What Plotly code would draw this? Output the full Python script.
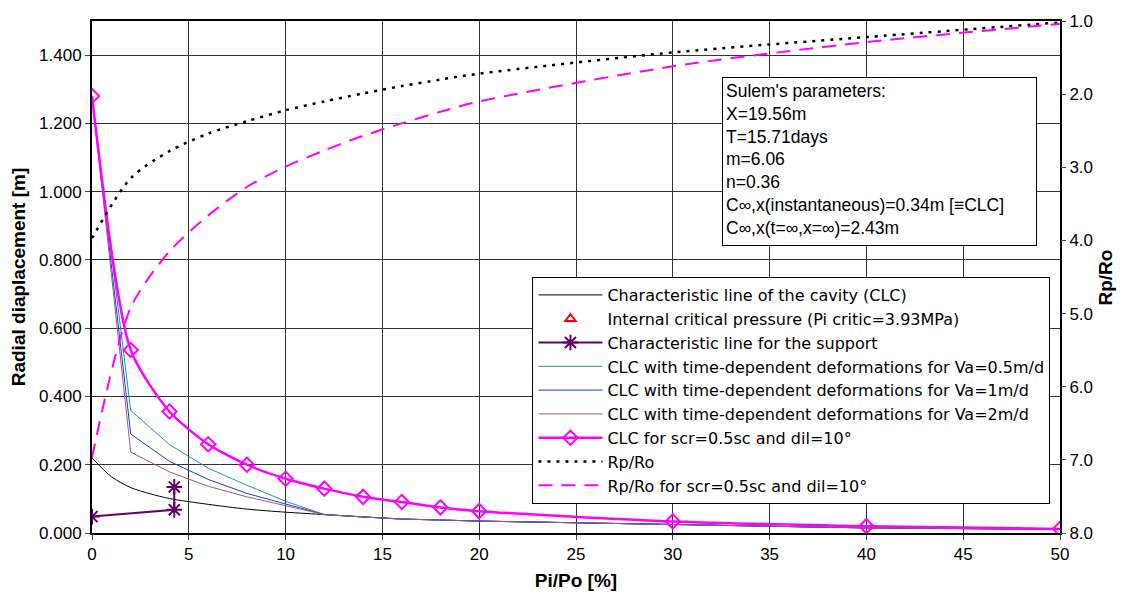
import plotly.graph_objects as go

# ---------------- data ----------------
x_pts = [0, 2, 4, 6, 8, 10, 12, 14, 16, 18, 20, 30, 40, 50]

clc_x = [0, 1, 2, 3, 4, 6, 8, 10, 12, 14, 16, 18, 20, 30, 40, 50]
clc_y = [0.220, 0.165, 0.133, 0.115, 0.101, 0.084, 0.070, 0.061, 0.054,
         0.047, 0.041, 0.038, 0.035, 0.025, 0.015, 0.011]

support_x = [0, 4.25, 4.25]
support_y = [0.048, 0.068, 0.135]

va05_y = [1.28, 0.359, 0.259, 0.190, 0.140, 0.093, 0.054, 0.047, 0.041, 0.038, 0.035, 0.025, 0.015, 0.011]
va1_y = [1.28, 0.290, 0.210, 0.157, 0.116, 0.085, 0.054, 0.047, 0.041, 0.038, 0.035, 0.025, 0.015, 0.011]
va2_y = [1.28, 0.237, 0.179, 0.137, 0.106, 0.081, 0.054, 0.047, 0.041, 0.038, 0.035, 0.025, 0.015, 0.011]

scr_y = [1.28, 0.536, 0.356, 0.260, 0.200, 0.159, 0.130, 0.106, 0.091, 0.075, 0.064, 0.034, 0.020, 0.012]

rp_ro = [3.97, 3.15, 2.78, 2.54, 2.37, 2.22, 2.10, 1.99, 1.89, 1.80, 1.72, 1.43, 1.22, 1.02]
rp_ro_scr = [6.97, 4.92, 4.15, 3.66, 3.27, 2.99, 2.77, 2.57, 2.40, 2.24, 2.10, 1.62, 1.29, 1.04]

x_ticks = [0, 5, 10, 15, 20, 25, 30, 35, 40, 45, 50]

names = [
    "Characteristic line of the cavity (CLC)",
    "Internal critical pressure (Pi critic=3.93MPa)",
    "Characteristic line for the support",
    "CLC with time-dependent deformations for Va=0.5m/d",
    "CLC with time-dependent deformations for Va=1m/d",
    "CLC with time-dependent deformations for Va=2m/d",
    "CLC for scr=0.5sc and dil=10°",
    "Rp/Ro",
    "Rp/Ro for scr=0.5sc and dil=10°",
]

params_text = ("Sulem's parameters:<br>X=19.56m<br>T=15.71days<br>m=6.06<br>n=0.36<br>"
               "C∞,x(instantaneous)=0.34m [≡CLC]<br>C∞,x(t=∞,x=∞)=2.43m")

FONT = "Liberation Sans, Arial, sans-serif"
LEG_FONT = "DejaVu Sans, Liberation Sans, sans-serif"

fig = go.Figure()

fig.add_trace(go.Scatter(x=clc_x, y=clc_y, mode="lines", name=names[0],
                         line=dict(color="black", width=1, shape="spline", smoothing=0.8)))
fig.add_trace(go.Scatter(x=[None], y=[None], mode="markers", name=names[1],
                         marker=dict(symbol="triangle-up-open", color="red", size=9,
                                     line=dict(width=2, color="red"))))
fig.add_trace(go.Scatter(x=support_x, y=support_y, mode="lines+markers", name=names[2],
                         line=dict(color="#660066", width=2),
                         marker=dict(symbol="asterisk", size=13, color="#660066",
                                     line=dict(width=2, color="#660066"))))
fig.add_trace(go.Scatter(x=x_pts, y=va05_y, mode="lines", name=names[3],
                         line=dict(color="#179A9A", width=1)))
fig.add_trace(go.Scatter(x=x_pts, y=va1_y, mode="lines", name=names[4],
                         line=dict(color="#1F35F0", width=1)))
fig.add_trace(go.Scatter(x=x_pts, y=va2_y, mode="lines", name=names[5],
                         line=dict(color="#A05876", width=1)))
fig.add_trace(go.Scatter(x=x_pts, y=scr_y, mode="lines+markers", name=names[6],
                         line=dict(color="#FF00FF", width=2.5, shape="spline", smoothing=0.7),
                         marker=dict(symbol="diamond-open", size=11, color="#FF00FF",
                                     line=dict(width=2, color="#FF00FF"))))
fig.add_trace(go.Scatter(x=x_pts, y=rp_ro, mode="lines", name=names[7], yaxis="y2",
                         line=dict(color="black", width=2.5, dash="3px,6px",
                                   shape="spline", smoothing=0.8)))
fig.add_trace(go.Scatter(x=x_pts, y=rp_ro_scr, mode="lines", name=names[8], yaxis="y2",
                         line=dict(color="#FF00FF", width=2, dash="14px,9px",
                                   shape="spline", smoothing=0.8)))

fig.add_annotation(xref="paper", yref="paper", x=0.6505, y=0.89,
                   xanchor="left", yanchor="top", align="left", valign="top",
                   text=params_text, showarrow=False,
                   font=dict(family=FONT, size=17.5, color="black"),
                   bgcolor="white", bordercolor="black", borderwidth=1, borderpad=3,
                   width=307, height=161)

# right axis title placed as rotated text
fig.add_annotation(xref="paper", yref="paper", x=1.047, y=0.5,
                   xanchor="center", yanchor="middle", textangle=-90,
                   text="<b>Rp/Ro</b>", showarrow=False,
                   font=dict(family=FONT, size=19, color="black"))

fig.update_layout(
    width=1125, height=600,
    margin=dict(l=92, r=65, t=18, b=65),
    paper_bgcolor="white", plot_bgcolor="white",
    font=dict(family=FONT, size=17, color="black"),
    showlegend=True,
    legend=dict(x=0.455, y=0.5, xanchor="left", yanchor="top",
                bgcolor="white", bordercolor="black", borderwidth=1,
                font=dict(family=LEG_FONT, size=16, color="black"),
                itemwidth=64, tracegroupgap=0),
    xaxis=dict(range=[0, 50], tickvals=x_ticks, ticks="outside", ticklen=5,
               showline=True, linecolor="black", linewidth=2, mirror=True,
               showgrid=True, gridcolor="#333333", gridwidth=1, zeroline=False,
               tickfont=dict(size=17),
               title=dict(text="<b>Pi/Po [%]</b>", font=dict(size=19), standoff=10)),
    yaxis=dict(range=[0, 1.5], dtick=0.2, tick0=0, tickformat=".3f", ticks="outside", ticklen=5,
               showline=True, linecolor="black", linewidth=2, mirror=True,
               showgrid=True, gridcolor="#333333", gridwidth=1, zeroline=False,
               tickfont=dict(size=17),
               title=dict(text="<b>Radial diaplacement [m]</b>", font=dict(size=19), standoff=8)),
    yaxis2=dict(overlaying="y", side="right", range=[8, 1], dtick=1, tick0=1,
                tickformat=".1f", ticks="outside", ticklen=5,
                showline=True, linecolor="black", linewidth=1, showgrid=False, zeroline=False,
                tickfont=dict(size=17)),
)

fig.write_html("out.html", config={"displayModeBar": False},
               post_script="document.body.style.margin='0';")
